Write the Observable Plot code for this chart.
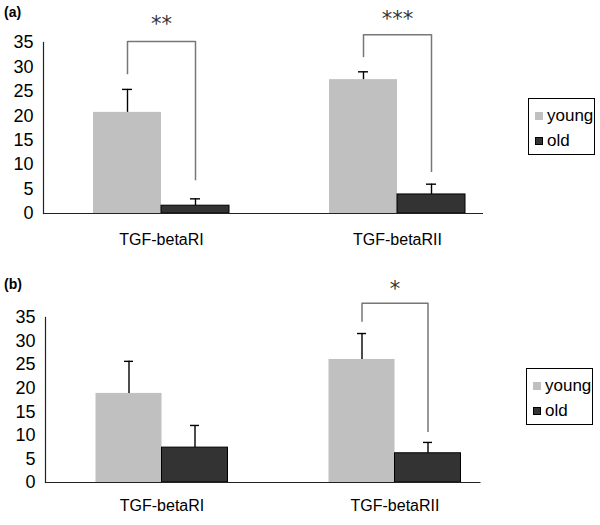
<!DOCTYPE html>
<html>
<head>
<meta charset="utf-8">
<script src="https://cdn.jsdelivr.net/npm/d3@7"></script>
<script src="https://cdn.jsdelivr.net/npm/@observablehq/plot@0.6"></script>
<style>
  body { margin: 0; background: white; font-family: "Liberation Sans", Arial, sans-serif; }
  #wrap { position: relative; width: 600px; height: 525px; }
  .plab { position: absolute; left: 4px; font-weight: bold; font-size: 14px; }
  .legend { position: absolute; border: 1.5px solid #000; box-sizing: border-box; width: 67px; height: 57px; font-size: 17px; }
  .item { position: absolute; left: 6px; display: flex; align-items: center; height: 18px; }
  .sw { width: 8px; height: 8px; margin-right: 4px; box-sizing: border-box; }
</style>
</head>
<body>
<div id="wrap"></div>
<script>
const categories = ["TGF-betaRI", "TGF-betaRII"];
const groups = ["young", "old"];
const groupColors = ["#c0c0c0", "#333333"];
const yTicks = [0, 5, 10, 15, 20, 25, 30, 35];

// Panel (a)
const aYoung = [20.7, 27.4];
const aYoungErr = [4.7, 1.6];
const aOld = [1.6, 3.9];
const aOldErr = [1.4, 2.1];
const aBracketCats = ["TGF-betaRI", "TGF-betaRII"];
const aBracketTop = [35.2, 36.6];
const aBracketLeft = [28.4, 31.9];
const aBracketRight = [6.7, 8.4];
const aStars = ["**", "***"];
const aStarY = [39.7, 40.7];

// Panel (b)
const bYoung = [18.9, 26.1];
const bYoungErr = [6.8, 5.5];
const bOld = [7.4, 6.2];
const bOldErr = [4.7, 2.3];
const bBracketCats = ["TGF-betaRII"];
const bBracketTop = [38.0];
const bBracketLeft = [34.0];
const bBracketRight = [10.6];
const bStars = ["*"];
const bStarY = [42.0];

function buildData(young, youngErr, old, oldErr) {
  const rows = [];
  categories.forEach((c, i) => {
    rows.push({cat: c, group: groups[0], value: young[i], err: youngErr[i]});
    rows.push({cat: c, group: groups[1], value: old[i], err: oldErr[i]});
  });
  return rows;
}
function buildBrackets(cats, top, left, right, stars, starY) {
  return cats.map((c, i) => ({cat: c, top: top[i], left: left[i], right: right[i], stars: stars[i], starY: starY[i]}));
}

function panel(cfg) {
  const data = cfg.data;
  const br = cfg.brackets;
  return Plot.plot({
    width: 600,
    height: cfg.height,
    marginTop: cfg.marginTop,
    marginBottom: cfg.marginBottom,
    marginLeft: cfg.marginLeft,
    marginRight: cfg.marginRight,
    style: {fontFamily: "Liberation Sans, Arial, sans-serif", background: "white", color: "black"},
    fx: {domain: categories, padding: 0},
    x: {domain: groups, paddingInner: 0, paddingOuter: cfg.paddingOuter, axis: null},
    y: {domain: [0, 35], axis: null},
    color: {domain: groups, range: groupColors},
    marks: [
      Plot.axisY({ticks: yTicks, tickSize: 0, tickPadding: 10, fontSize: 18, label: null, tickFormat: d => String(d)}),
      Plot.axisFx({anchor: "bottom", tickSize: 0, tickPadding: cfg.catPadding, fontSize: 16, label: null}),
      Plot.barY(data, {fx: "cat", x: "group", y: "value", fill: "group"}),
      Plot.barY(data.filter(d => d.group === groups[1]), {fx: "cat", x: "group", y: "value", fill: "none", stroke: "black", strokeWidth: 1}),
      Plot.ruleX(data, {fx: "cat", x: "group", y1: "value", y2: d => d.value + d.err, stroke: "black", strokeWidth: 1.4}),
      Plot.tickY(data, {fx: "cat", x: "group", y: d => d.value + d.err, stroke: "black", strokeWidth: 1.4, insetLeft: cfg.capInset, insetRight: cfg.capInset}),
      Plot.frame({anchor: "left", facetAnchor: "left", stroke: "#222", strokeWidth: 1.2}),
      Plot.ruleY([0], {facetAnchor: "left", stroke: "#222", strokeWidth: 1.2}),
      Plot.ruleY([0], {facetAnchor: "right", insetRight: cfg.baseInsetRight, stroke: "#222", strokeWidth: 1.2}),
      Plot.ruleX(br, {fx: "cat", x: () => groups[0], y1: "left", y2: "top", stroke: "#777", strokeWidth: 1.5}),
      Plot.ruleX(br, {fx: "cat", x: () => groups[1], y1: "right", y2: "top", stroke: "#777", strokeWidth: 1.5}),
      Plot.link(br, {fx: "cat", x1: () => groups[0], x2: () => groups[1], y1: "top", y2: "top", stroke: "#777", strokeWidth: 1.5}),
      Plot.text(br, {fx: "cat", y: "starY", text: "stars", fontSize: 21, fontFamily: "DejaVu Sans", fill: "#333", dy: 5})
    ]
  });
}

const wrap = document.getElementById("wrap");

const plotA = panel({
  data: buildData(aYoung, aYoungErr, aOld, aOldErr),
  brackets: buildBrackets(aBracketCats, aBracketTop, aBracketLeft, aBracketRight, aStars, aStarY),
  height: 262, marginTop: 42, marginBottom: 49, marginLeft: 43, marginRight: 85,
  paddingOuter: 0.735, capInset: 29, baseInsetRight: 32, catPadding: 20
});
const plotB = panel({
  data: buildData(bYoung, bYoungErr, bOld, bOldErr),
  brackets: buildBrackets(bBracketCats, bBracketTop, bBracketLeft, bBracketRight, bStars, bStarY),
  height: 263, marginTop: 55, marginBottom: 43, marginLeft: 44.5, marginRight: 89.5,
  paddingOuter: 0.739, capInset: 28.5, baseInsetRight: 30.5, catPadding: 17
});
plotA.style.display = "block";
plotB.style.display = "block";
wrap.appendChild(plotA);
wrap.appendChild(plotB);

function addLabel(text, top) {
  const d = document.createElement("div");
  d.className = "plab";
  d.style.top = top + "px";
  d.textContent = text;
  wrap.appendChild(d);
}
addLabel("(a)", 4);
addLabel("(b)", 276);

function addLegend(left, top) {
  const box = document.createElement("div");
  box.className = "legend";
  box.style.left = left + "px";
  box.style.top = top + "px";
  groups.forEach((g, i) => {
    const it = document.createElement("div");
    it.className = "item";
    it.style.top = (i === 0 ? 8 : 33) + "px";
    const sw = document.createElement("div");
    sw.className = "sw";
    sw.style.background = groupColors[i];
    if (i === 1) sw.style.border = "1px solid #000";
    const t = document.createElement("span");
    t.textContent = g;
    it.appendChild(sw);
    it.appendChild(t);
    box.appendChild(it);
  });
  wrap.appendChild(box);
}
addLegend(528, 98);
addLegend(526, 368);
</script>
</body>
</html>
